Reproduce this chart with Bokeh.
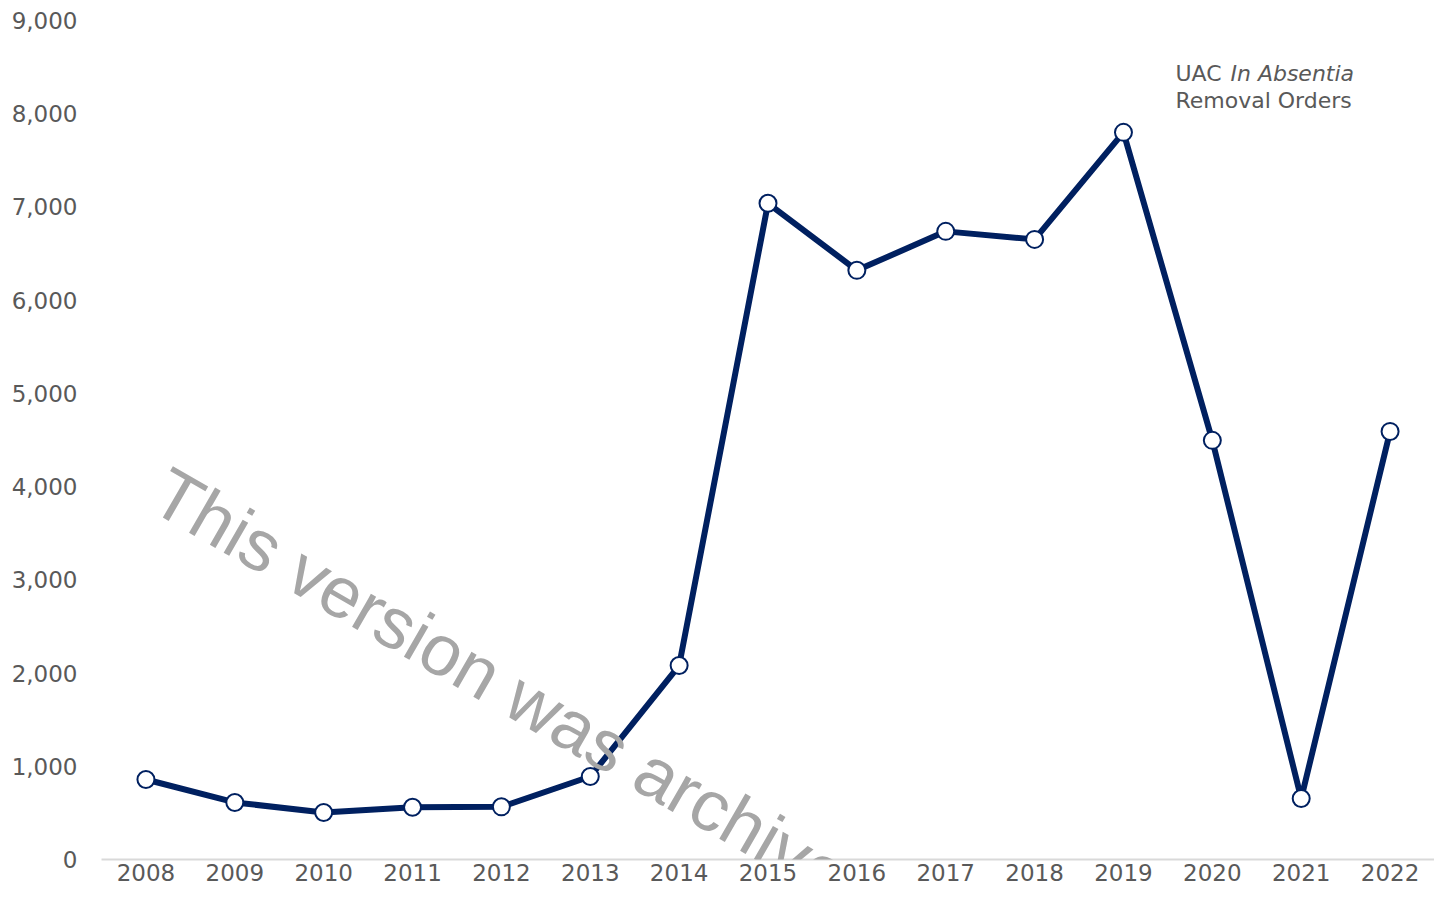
import math
from bokeh.plotting import figure
from bokeh.models import ColumnDataSource, FixedTicker, Label, NumeralTickFormatter
from bokeh.embed import file_html
from bokeh.resources import INLINE

years = ["2008", "2009", "2010", "2011", "2012", "2013", "2014", "2015",
         "2016", "2017", "2018", "2019", "2020", "2021", "2022"]
orders = [858, 612, 504, 560, 565, 890, 2081, 7039, 6320, 6738, 6652, 7800, 4496, 654, 4592]
y_ticks = [0, 1000, 2000, 3000, 4000, 5000, 6000, 7000, 8000, 9000]

series_title_plain = "UAC"
series_title_italic = "In Absentia"
series_title_line2 = "Removal Orders"
watermark = "This version was archived"

NAVY = "#002060"
GREY_TXT = "#595959"
FONT = "DejaVu Sans"

src = ColumnDataSource(data=dict(year=years, orders=orders))

p = figure(x_range=years, y_range=(0, 9000), width=1434, height=889,
           output_backend="svg", toolbar_location=None,
           min_border_left=101, min_border_right=0, min_border_top=20, min_border_bottom=30)
p.outline_line_color = None
p.background_fill_color = "white"
p.border_fill_color = "white"
p.xgrid.grid_line_color = None
p.ygrid.grid_line_color = None

p.line("year", "orders", source=src, line_color=NAVY, line_width=6, line_join="round")
p.scatter("year", "orders", source=src, size=17, fill_color="white",
          line_color=NAVY, line_width=2)

# axes
p.yaxis.ticker = FixedTicker(ticks=y_ticks)
p.yaxis.formatter = NumeralTickFormatter(format="0,0")
p.yaxis.axis_line_color = None
p.yaxis.major_tick_line_color = None
p.yaxis.minor_tick_line_color = None
p.yaxis.major_tick_out = 0
p.yaxis.major_tick_in = 0
p.yaxis.major_label_standoff = 24
p.yaxis.major_label_text_font = FONT
p.yaxis.major_label_text_font_size = "23px"
p.yaxis.major_label_text_color = GREY_TXT

p.xaxis.axis_line_color = "#d9d9d9"
p.xaxis.axis_line_width = 2
p.xaxis.major_tick_line_color = None
p.xaxis.minor_tick_line_color = None
p.xaxis.major_tick_out = 0
p.xaxis.major_tick_in = 0
p.xaxis.major_label_standoff = 4
p.xaxis.major_label_text_font = FONT
p.xaxis.major_label_text_font_size = "23px"
p.xaxis.major_label_text_color = GREY_TXT

# series title
p.add_layout(Label(x=12.085, y=8432, text=series_title_plain, text_font=FONT,
                   text_font_size="22px", text_color=GREY_TXT, text_baseline="alphabetic"))
p.add_layout(Label(x=12.085, y=8432, x_offset=55, text=series_title_italic, text_font=FONT,
                   text_font_size="22px", text_font_style="italic", text_color=GREY_TXT,
                   text_baseline="alphabetic"))
p.add_layout(Label(x=12.085, y=8142, text=series_title_line2, text_font=FONT,
                   text_font_size="22px", text_color=GREY_TXT, text_baseline="alphabetic"))

# watermark
p.add_layout(Label(x=0.65, y=4000, text=watermark, text_font="Liberation Sans",
                   text_font_size="72px", text_color="#a6a6a6", angle=-math.pi / 6,
                   text_baseline="alphabetic", text_align="left"))

open("out.html", "w").write(file_html(p, INLINE))
